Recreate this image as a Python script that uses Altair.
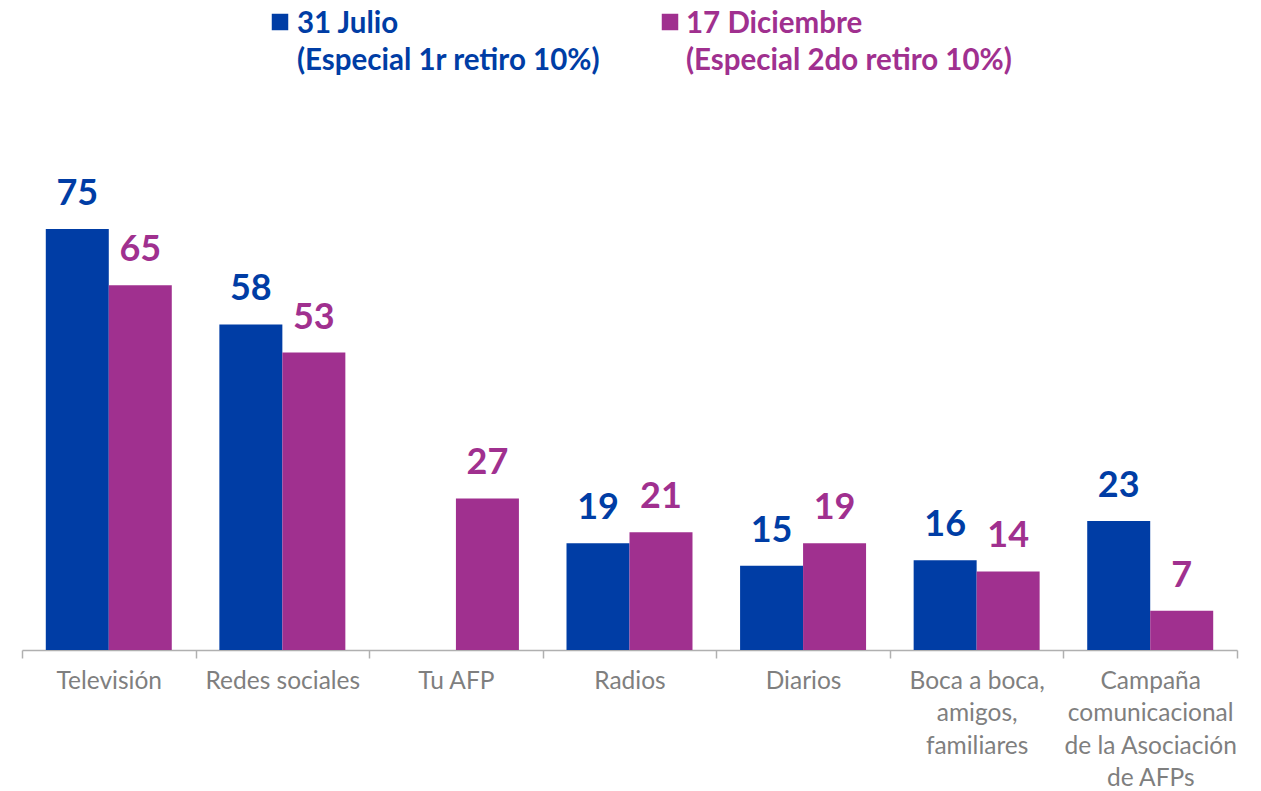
import altair as alt
import pandas as pd

# ---- data ----
categories = [
    "Televisión",
    "Redes sociales",
    "Tu AFP",
    "Radios",
    "Diarios",
    "Boca a boca,\namigos,\nfamiliares",
    "Campaña\ncomunicacional\nde la Asociación\nde AFPs",
]
series_names = ["31 Julio", "17 Diciembre"]
series_subtitles = ["(Especial 1r retiro 10%)", "(Especial 2do retiro 10%)"]
series_colors = ["#003DA5", "#A0308F"]
julio_values = [75, 58, None, 19, 15, 16, 23]
diciembre_values = [65, 53, 27, 21, 19, 14, 7]

rows = []
for c, v1, v2 in zip(categories, julio_values, diciembre_values):
    rows.append({"cat": c, "serie": series_names[0], "value": v1})
    rows.append({"cat": c, "serie": series_names[1], "value": v2})
df = pd.DataFrame(rows)

FONT = "Lato"
color_scale = alt.Scale(domain=series_names, range=series_colors)

x_enc = alt.X(
    "cat:N",
    sort=categories,
    title=None,
    scale=alt.Scale(paddingInner=0, paddingOuter=0),
    axis=alt.Axis(
        labelExpr="split(datum.label, '\\n')",
        labelAngle=0,
        labelFont=FONT,
        labelFontSize=24.5,
        labelColor="#7f7f7f",
        labelLineHeight=32.5,
        labelPadding=11,
        labelBaseline="top",
        domainColor="#b0b0b0",
        domainWidth=1.5,
        tickColor="#b0b0b0",
        tickWidth=1.5,
        tickSize=8,
        tickBand="extent",
        grid=False,
    ),
)
xoff = alt.XOffset(
    "serie:N", sort=series_names,
    scale=alt.Scale(paddingInner=0, paddingOuter=0.3777),
)
y_enc = alt.Y("value:Q", scale=alt.Scale(domain=[0, 80], nice=False), axis=None)

base = alt.Chart(df)

bars = base.mark_bar().encode(
    x=x_enc,
    xOffset=xoff,
    y=y_enc,
    color=alt.Color("serie:N", scale=color_scale, legend=None),
)

labels = base.transform_filter("isValid(datum.value)").mark_text(
    font=FONT, fontSize=36, fontWeight="bold", baseline="bottom", dy=-16
).encode(
    x=x_enc,
    xOffset=xoff,
    y=y_enc,
    text=alt.Text("value:Q"),
    color=alt.Color("serie:N", scale=color_scale, legend=None),
)

# ---- custom legend (two-line colored labels) ----
sq_x = [258, 648]
tx_x = [275, 664]
legend_layers = []
for i in range(2):
    ldf = pd.DataFrame({"name": [series_names[i]], "sub": [series_subtitles[i]]})
    lc = alt.Chart(ldf)
    legend_layers.append(
        lc.mark_square(size=272, opacity=1, color=series_colors[i]).encode(
            x=alt.value(sq_x[i]), y=alt.value(-179)
        )
    )
    legend_layers.append(
        lc.mark_text(
            font=FONT, fontSize=29.5, fontWeight="bold", align="left", baseline="middle",
            color=series_colors[i],
        ).encode(x=alt.value(tx_x[i]), y=alt.value(-177), text="name:N")
    )
    legend_layers.append(
        lc.mark_text(
            font=FONT, fontSize=29.5, fontWeight="bold", align="left", baseline="middle",
            color=series_colors[i],
        ).encode(x=alt.value(tx_x[i]), y=alt.value(-140), text="sub:N")
    )

chart = alt.layer(bars, labels, *legend_layers).properties(
    width=1215,
    height=449,
    background="white",
    autosize=alt.AutoSizeParams(type="none"),
    padding={"left": 14, "top": 193, "right": 16, "bottom": 150},
).configure_view(stroke=None)

chart.save("out.html", embed_options={"renderer": "svg", "actions": False})
